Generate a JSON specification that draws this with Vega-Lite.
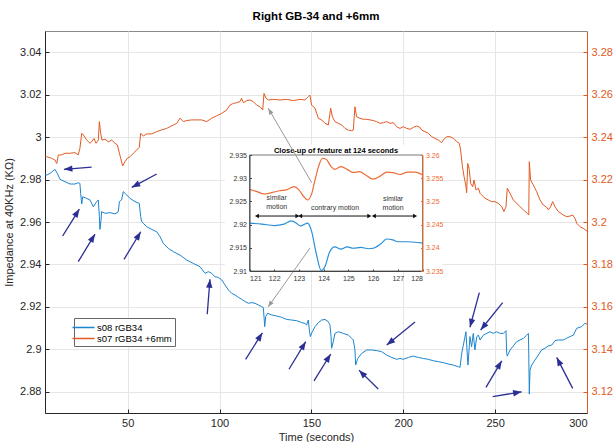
{
"$schema": "https://vega.github.io/schema/vega-lite/v6.json",
"width": 542, "height": 382,
"autosize": {"type": "none"},
"padding": {"left": 45, "top": 31, "right": 26, "bottom": 29},
"title": {"text": "Right GB-34 and +6mm", "fontSize": 11.5, "fontWeight": "bold", "font": "Liberation Sans", "color": "#000", "offset": 9},
"datasets": {
"blue": [{"t":5.2,"v":2.9822},{"t":5.9,"v":2.9821},{"t":7.7,"v":2.9829},{"t":10.4,"v":2.9848},{"t":11.7,"v":2.9829},{"t":13.2,"v":2.9801},{"t":15.9,"v":2.979},{"t":18.6,"v":2.9779},{"t":21.3,"v":2.9779},{"t":23.1,"v":2.9785},{"t":24.0,"v":2.9782},{"t":24.4,"v":2.9735},{"t":25.0,"v":2.9685},{"t":25.5,"v":2.9719},{"t":27.7,"v":2.9711},{"t":29.5,"v":2.9704},{"t":31.3,"v":2.9672},{"t":33.1,"v":2.9696},{"t":34.0,"v":2.9704},{"t":34.6,"v":2.9625},{"t":34.9,"v":2.9565},{"t":35.5,"v":2.9609},{"t":35.8,"v":2.9649},{"t":37.7,"v":2.9641},{"t":40.4,"v":2.9644},{"t":43.1,"v":2.9638},{"t":44.9,"v":2.9649},{"t":45.5,"v":2.9696},{"t":46.7,"v":2.9704},{"t":47.6,"v":2.9743},{"t":49.5,"v":2.9727},{"t":51.3,"v":2.9711},{"t":54.0,"v":2.9696},{"t":56.3,"v":2.9688},{"t":57.1,"v":2.9625},{"t":57.6,"v":2.9602},{"t":58.5,"v":2.9594},{"t":60.3,"v":2.9578},{"t":63.1,"v":2.9565},{"t":65.8,"v":2.9554},{"t":67.6,"v":2.9531},{"t":69.4,"v":2.9499},{"t":72.1,"v":2.9476},{"t":74.9,"v":2.946},{"t":78.5,"v":2.9444},{"t":82.1,"v":2.9421},{"t":85.7,"v":2.9405},{"t":89.4,"v":2.9389},{"t":92.1,"v":2.9358},{"t":93.9,"v":2.9366},{"t":95.7,"v":2.9358},{"t":97.5,"v":2.9342},{"t":99.3,"v":2.9339},{"t":101.2,"v":2.9327},{"t":103.0,"v":2.9303},{"t":104.8,"v":2.928},{"t":106.6,"v":2.9264},{"t":108.4,"v":2.9256},{"t":110.2,"v":2.9245},{"t":112.0,"v":2.9236},{"t":113.9,"v":2.9225},{"t":115.7,"v":2.9217},{"t":117.5,"v":2.922},{"t":119.3,"v":2.9217},{"t":121.1,"v":2.9209},{"t":122.9,"v":2.9201},{"t":123.8,"v":2.9198},{"t":124.2,"v":2.9154},{"t":124.6,"v":2.9107},{"t":125.1,"v":2.9154},{"t":126.2,"v":2.917},{"t":128.4,"v":2.9162},{"t":131.1,"v":2.9157},{"t":133.8,"v":2.9151},{"t":136.5,"v":2.9141},{"t":139.3,"v":2.9138},{"t":142.0,"v":2.9135},{"t":144.7,"v":2.9126},{"t":146.5,"v":2.9122},{"t":147.4,"v":2.9115},{"t":148.3,"v":2.9138},{"t":148.9,"v":2.9091},{"t":149.4,"v":2.906},{"t":150.5,"v":2.9083},{"t":152.0,"v":2.9107},{"t":153.8,"v":2.9126},{"t":155.6,"v":2.9138},{"t":157.4,"v":2.9141},{"t":159.2,"v":2.913},{"t":160.1,"v":2.9115},{"t":160.7,"v":2.906},{"t":161.0,"v":2.9005},{"t":161.9,"v":2.9036},{"t":162.8,"v":2.9075},{"t":164.7,"v":2.9083},{"t":167.4,"v":2.9075},{"t":170.1,"v":2.9067},{"t":171.9,"v":2.9052},{"t":172.8,"v":2.9044},{"t":173.7,"v":2.8997},{"t":174.1,"v":2.8926},{"t":175.2,"v":2.8957},{"t":177.4,"v":2.8981},{"t":180.1,"v":2.8997},{"t":182.8,"v":2.8997},{"t":185.5,"v":2.8994},{"t":188.2,"v":2.8989},{"t":191.0,"v":2.8973},{"t":193.7,"v":2.8962},{"t":196.4,"v":2.8953},{"t":198.2,"v":2.8957},{"t":200.0,"v":2.8953},{"t":202.8,"v":2.8962},{"t":205.5,"v":2.8968},{"t":208.2,"v":2.8962},{"t":210.9,"v":2.8957},{"t":213.6,"v":2.8953},{"t":216.4,"v":2.8946},{"t":219.1,"v":2.8942},{"t":221.8,"v":2.8937},{"t":224.5,"v":2.8931},{"t":227.3,"v":2.8926},{"t":230.0,"v":2.8918},{"t":230.9,"v":2.8915},{"t":231.8,"v":2.8981},{"t":232.7,"v":2.902},{"t":233.6,"v":2.906},{"t":234.1,"v":2.9083},{"t":234.9,"v":2.8965},{"t":235.2,"v":2.8926},{"t":235.8,"v":2.8997},{"t":236.3,"v":2.906},{"t":237.2,"v":2.9012},{"t":238.1,"v":2.9075},{"t":239.0,"v":2.8997},{"t":240.0,"v":2.906},{"t":240.9,"v":2.9067},{"t":241.8,"v":2.9044},{"t":243.6,"v":2.9067},{"t":245.4,"v":2.9075},{"t":247.2,"v":2.9083},{"t":249.0,"v":2.9075},{"t":250.8,"v":2.9083},{"t":252.7,"v":2.9075},{"t":254.5,"v":2.9075},{"t":255.9,"v":2.9088},{"t":256.3,"v":2.8981},{"t":256.6,"v":2.8968},{"t":258.1,"v":2.8997},{"t":259.9,"v":2.9016},{"t":261.7,"v":2.9036},{"t":263.5,"v":2.9044},{"t":265.4,"v":2.9052},{"t":267.2,"v":2.9067},{"t":268.1,"v":2.9075},{"t":268.3,"v":2.8981},{"t":268.6,"v":2.8789},{"t":269.0,"v":2.8903},{"t":269.9,"v":2.8926},{"t":271.7,"v":2.895},{"t":273.5,"v":2.8973},{"t":275.3,"v":2.8997},{"t":277.1,"v":2.9005},{"t":279.0,"v":2.9016},{"t":280.8,"v":2.902},{"t":282.6,"v":2.9041},{"t":284.4,"v":2.9044},{"t":287.1,"v":2.9044},{"t":288.9,"v":2.9052},{"t":290.7,"v":2.906},{"t":292.6,"v":2.9067},{"t":294.4,"v":2.9099},{"t":297.1,"v":2.9107},{"t":298.9,"v":2.9123},{"t":300,"v":2.9118}],
"orange": [{"t":5.2,"v":3.2308},{"t":5.9,"v":3.2308},{"t":8.6,"v":3.23},{"t":10.4,"v":3.2292},{"t":11.4,"v":3.2276},{"t":12.3,"v":3.2316},{"t":14.1,"v":3.2316},{"t":15.9,"v":3.2324},{"t":18.6,"v":3.2324},{"t":21.3,"v":3.2327},{"t":23.1,"v":3.2316},{"t":24.0,"v":3.2347},{"t":25.0,"v":3.2418},{"t":25.9,"v":3.241},{"t":27.7,"v":3.2386},{"t":29.5,"v":3.2371},{"t":30.4,"v":3.2378},{"t":31.7,"v":3.2394},{"t":32.8,"v":3.2371},{"t":34.0,"v":3.2386},{"t":34.6,"v":3.2473},{"t":35.3,"v":3.2418},{"t":36.0,"v":3.2386},{"t":37.7,"v":3.239},{"t":39.5,"v":3.2378},{"t":41.3,"v":3.2386},{"t":43.1,"v":3.2371},{"t":44.4,"v":3.2363},{"t":45.5,"v":3.2324},{"t":46.2,"v":3.23},{"t":47.3,"v":3.2264},{"t":48.5,"v":3.2284},{"t":49.8,"v":3.23},{"t":51.3,"v":3.2308},{"t":53.1,"v":3.2324},{"t":54.9,"v":3.2339},{"t":56.3,"v":3.2352},{"t":57.1,"v":3.2418},{"t":58.5,"v":3.2405},{"t":60.3,"v":3.2415},{"t":63.1,"v":3.2415},{"t":65.8,"v":3.2426},{"t":68.5,"v":3.2434},{"t":71.2,"v":3.2441},{"t":73.0,"v":3.2449},{"t":74.9,"v":3.2457},{"t":76.7,"v":3.2465},{"t":78.5,"v":3.2489},{"t":80.3,"v":3.2473},{"t":82.1,"v":3.2478},{"t":84.8,"v":3.2481},{"t":87.6,"v":3.2481},{"t":90.3,"v":3.2481},{"t":93.0,"v":3.2473},{"t":95.7,"v":3.2489},{"t":98.4,"v":3.25},{"t":101.2,"v":3.2512},{"t":103.9,"v":3.2528},{"t":105.7,"v":3.2551},{"t":107.5,"v":3.2559},{"t":109.3,"v":3.2562},{"t":111.1,"v":3.2567},{"t":112.0,"v":3.2583},{"t":113.0,"v":3.2562},{"t":114.8,"v":3.2572},{"t":116.6,"v":3.2575},{"t":118.4,"v":3.2567},{"t":120.2,"v":3.2551},{"t":122.0,"v":3.2543},{"t":123.5,"v":3.2528},{"t":124.2,"v":3.2606},{"t":125.3,"v":3.2583},{"t":126.6,"v":3.2575},{"t":129.3,"v":3.2578},{"t":132.9,"v":3.2575},{"t":136.5,"v":3.2578},{"t":140.2,"v":3.2572},{"t":143.8,"v":3.2578},{"t":146.5,"v":3.2575},{"t":148.3,"v":3.2591},{"t":149.2,"v":3.2598},{"t":150.1,"v":3.2551},{"t":152.0,"v":3.2536},{"t":152.9,"v":3.2512},{"t":153.8,"v":3.2488},{"t":155.6,"v":3.2481},{"t":157.4,"v":3.2465},{"t":159.2,"v":3.2457},{"t":160.5,"v":3.2536},{"t":161.4,"v":3.2496},{"t":162.8,"v":3.2473},{"t":164.7,"v":3.2465},{"t":166.5,"v":3.2457},{"t":168.3,"v":3.2441},{"t":170.1,"v":3.2433},{"t":171.9,"v":3.243},{"t":172.8,"v":3.2433},{"t":173.7,"v":3.2543},{"t":174.6,"v":3.2496},{"t":176.5,"v":3.2488},{"t":178.3,"v":3.2484},{"t":180.1,"v":3.2484},{"t":181.9,"v":3.2481},{"t":183.7,"v":3.2478},{"t":185.5,"v":3.2473},{"t":187.3,"v":3.2465},{"t":189.2,"v":3.2468},{"t":191.0,"v":3.2473},{"t":192.8,"v":3.2465},{"t":194.6,"v":3.2468},{"t":196.4,"v":3.2449},{"t":198.2,"v":3.2441},{"t":200.0,"v":3.2449},{"t":201.9,"v":3.2441},{"t":203.7,"v":3.2437},{"t":205.5,"v":3.2446},{"t":207.3,"v":3.2452},{"t":209.1,"v":3.2446},{"t":210.0,"v":3.2433},{"t":211.8,"v":3.2426},{"t":213.6,"v":3.2418},{"t":215.5,"v":3.2402},{"t":217.3,"v":3.2394},{"t":219.1,"v":3.2386},{"t":220.9,"v":3.2374},{"t":221.8,"v":3.2386},{"t":223.6,"v":3.2402},{"t":225.4,"v":3.2402},{"t":227.3,"v":3.2394},{"t":229.1,"v":3.2379},{"t":230.5,"v":3.2371},{"t":231.2,"v":3.2339},{"t":232.2,"v":3.2261},{"t":233.1,"v":3.2214},{"t":234.0,"v":3.2174},{"t":234.5,"v":3.2138},{"t":235.1,"v":3.2276},{"t":235.8,"v":3.2253},{"t":236.7,"v":3.2182},{"t":237.8,"v":3.2166},{"t":238.5,"v":3.2198},{"t":239.6,"v":3.2151},{"t":240.9,"v":3.2159},{"t":241.8,"v":3.2135},{"t":242.7,"v":3.2127},{"t":244.5,"v":3.2112},{"t":246.3,"v":3.2104},{"t":248.1,"v":3.2096},{"t":249.9,"v":3.2096},{"t":251.7,"v":3.2088},{"t":253.6,"v":3.2072},{"t":254.8,"v":3.2049},{"t":255.9,"v":3.2072},{"t":256.6,"v":3.2159},{"t":258.1,"v":3.2135},{"t":259.9,"v":3.2104},{"t":262.6,"v":3.208},{"t":265.4,"v":3.2057},{"t":267.5,"v":3.2041},{"t":268.3,"v":3.2033},{"t":268.6,"v":3.2284},{"t":269.3,"v":3.2198},{"t":270.8,"v":3.2174},{"t":272.6,"v":3.2143},{"t":274.4,"v":3.2104},{"t":276.2,"v":3.208},{"t":278.1,"v":3.2069},{"t":279.0,"v":3.2057},{"t":280.2,"v":3.2072},{"t":281.3,"v":3.2096},{"t":282.6,"v":3.2072},{"t":284.4,"v":3.2049},{"t":287.1,"v":3.2033},{"t":288.9,"v":3.2025},{"t":290.7,"v":3.2028},{"t":292.2,"v":3.2033},{"t":293.5,"v":3.2017},{"t":294.4,"v":3.1994},{"t":296.2,"v":3.1978},{"t":298.0,"v":3.197},{"t":300,"v":3.1957}],
"arrows": [{"t":30.4,"v":2.9859,"t2":15.3,"v2":2.9848,"angle":265},{"t":65.8,"v":2.9826,"t2":52.2,"v2":2.9763,"angle":242},{"t":14.6,"v":2.9534,"t2":23.7,"v2":2.9661,"angle":32},{"t":23.1,"v":2.9413,"t2":32.2,"v2":2.9543,"angle":31},{"t":48.0,"v":2.9424,"t2":57.1,"v2":2.9554,"angle":31},{"t":93.3,"v":2.9165,"t2":94.8,"v2":2.933,"angle":5},{"t":114.2,"v":2.8953,"t2":123.3,"v2":2.9078,"angle":32},{"t":137.8,"v":2.8906,"t2":146.9,"v2":2.9036,"angle":31},{"t":151.4,"v":2.8851,"t2":160.5,"v2":2.8978,"angle":32},{"t":186.4,"v":2.8813,"t2":175.9,"v2":2.8902,"angle":315},{"t":206.4,"v":2.9129,"t2":191.0,"v2":2.902,"angle":231},{"t":241.4,"v":2.9267,"t2":236.3,"v2":2.9104,"angle":195},{"t":254.1,"v":2.922,"t2":242.1,"v2":2.9091,"angle":219},{"t":245.0,"v":2.8821,"t2":253.6,"v2":2.8946,"angle":31},{"t":248.7,"v":2.8777,"t2":264.4,"v2":2.88,"angle":80},{"t":292.2,"v":2.8816,"t2":283.5,"v2":2.8962,"angle":333}],
"grayArrows": [{"t":150.2,"v":2.9785,"t2":126.5,"v2":3.0136,"angle":330},{"t":149.2,"v":2.9477,"t2":126.4,"v2":2.9199,"angle":215}],
"insetBlue": [{"t":121.0,"v":2.9203},{"t":121.5,"v":2.9201},{"t":122.0,"v":2.9198},{"t":122.4,"v":2.9201},{"t":122.7,"v":2.9208},{"t":122.9,"v":2.9203},{"t":123.05,"v":2.9197},{"t":123.2,"v":2.92},{"t":123.35,"v":2.9203},{"t":123.5,"v":2.9188},{"t":123.7,"v":2.9138},{"t":123.9,"v":2.9101},{"t":124.05,"v":2.9109},{"t":124.25,"v":2.9142},{"t":124.45,"v":2.9152},{"t":124.7,"v":2.9147},{"t":124.95,"v":2.9152},{"t":125.2,"v":2.9149},{"t":125.5,"v":2.9151},{"t":125.8,"v":2.9148},{"t":126.0,"v":2.9149},{"t":126.3,"v":2.9158},{"t":126.55,"v":2.9169},{"t":126.8,"v":2.9167},{"t":127.0,"v":2.9163},{"t":127.4,"v":2.9163},{"t":127.7,"v":2.9162},{"t":128.0,"v":2.916}],
"insetOrange": [{"t":121.0,"v":3.2526},{"t":121.3,"v":3.2521},{"t":121.6,"v":3.2516},{"t":121.9,"v":3.2519},{"t":122.2,"v":3.2523},{"t":122.5,"v":3.2525},{"t":122.8,"v":3.2532},{"t":123.0,"v":3.2525},{"t":123.2,"v":3.251},{"t":123.35,"v":3.2503},{"t":123.5,"v":3.2514},{"t":123.65,"v":3.2546},{"t":123.8,"v":3.2576},{"t":123.95,"v":3.2593},{"t":124.1,"v":3.2591},{"t":124.3,"v":3.2575},{"t":124.45,"v":3.2569},{"t":124.7,"v":3.2575},{"t":124.95,"v":3.2569},{"t":125.2,"v":3.2562},{"t":125.45,"v":3.2564},{"t":125.7,"v":3.2557},{"t":126.0,"v":3.2548},{"t":126.3,"v":3.2555},{"t":126.55,"v":3.2563},{"t":126.8,"v":3.2562},{"t":127.1,"v":3.2558},{"t":127.4,"v":3.2563},{"t":127.7,"v":3.2563},{"t":128.0,"v":3.2557}],
"insetText": [{"t":122.1,"v":2.92566,"label":"similar"},{"t":122.1,"v":2.92386,"label":"motion"},{"t":124.46,"v":2.92365,"label":"contrary motion"},{"t":126.81,"v":2.92545,"label":"similar"},{"t":126.81,"v":2.92365,"label":"motion"}],
"insetArrows": [{"t":121.3,"t2":122.94,"v":2.92185},{"t":123.05,"t2":125.85,"v":2.92185},{"t":126.03,"t2":127.7,"v":2.92185}]
},
"resolve": {"scale": {"x": "independent", "y": "independent"}, "axis": {"x": "independent", "y": "independent"}},
"layer": [
{"data": {"name": "blue"}, "mark": {"type": "line", "strokeWidth": 1},
 "encoding": {
  "x": {"field": "t", "type": "quantitative", "scale": {"domain": [5, 300], "nice": false, "zero": false},
        "axis": {"orient": "bottom", "values": [50,100,150,200,250,300], "title": "Time (seconds)", "grid": true, "labelFontSize": 11, "titleFontSize": 11, "tickSize": -4, "labelPadding": 8, "titlePadding": 3}},
  "y": {"field": "v", "type": "quantitative", "scale": {"domain": [2.87, 3.05], "nice": false, "zero": false},
        "axis": {"orient": "left", "values": [2.88,2.9,2.92,2.94,2.96,2.98,3,3.02,3.04], "format": ".2~f", "title": "Impedance at 40KHz (KΩ)", "grid": true, "labelFontSize": 11, "titleFontSize": 11, "tickSize": -4, "labelPadding": 8, "titlePadding": 5}},
  "color": {"datum": "s08 rGB34", "type": "nominal",
            "scale": {"domain": ["s08 rGB34", "s07 rGB34 +6mm"], "range": ["#1a85d0", "#e15a22"]},
            "legend": {"orient": "none", "legendX": 29, "legendY": 287, "title": null, "symbolType": "M-2,0H2", "symbolSize": 121, "symbolStrokeWidth": 1.5, "labelFontSize": 9.5, "labelColor": "#000", "strokeColor": "#666", "fillColor": "#fff", "padding": 3, "rowPadding": 0, "labelOffset": 7}}
 }},
{"data": {"name": "orange"}, "mark": {"type": "line", "strokeWidth": 1},
 "encoding": {
  "x": {"field": "t", "type": "quantitative", "scale": {"domain": [5, 300], "nice": false, "zero": false}, "axis": null},
  "y": {"field": "v", "type": "quantitative", "scale": {"domain": [3.11, 3.29], "nice": false, "zero": false},
        "axis": {"orient": "right", "values": [3.12,3.14,3.16,3.18,3.2,3.22,3.24,3.26,3.28], "format": ".2~f", "title": null, "grid": false, "labelFontSize": 11, "labelColor": "#e15a22", "domainColor": "#e15a22", "tickColor": "#e15a22", "tickSize": -4, "labelPadding": 8}},
  "color": {"datum": "s07 rGB34 +6mm", "type": "nominal"}
 }},
{"data": {"name": "arrows"}, "mark": {"type": "rule", "color": "#2b2f93", "strokeWidth": 1.3},
 "encoding": {
  "x": {"field": "t", "type": "quantitative", "scale": {"domain": [5, 300], "nice": false, "zero": false}, "axis": null},
  "y": {"field": "v", "type": "quantitative", "scale": {"domain": [2.87, 3.05], "nice": false, "zero": false}, "axis": null},
  "x2": {"field": "t2"}, "y2": {"field": "v2"}
 }},
{"data": {"name": "arrows"}, "mark": {"type": "point", "shape": "M0,0L1.5,4L-1.5,4Z", "filled": true, "size": 18, "color": "#2b2f93", "opacity": 1, "strokeWidth": 0},
 "encoding": {
  "x": {"field": "t2", "type": "quantitative", "scale": {"domain": [5, 300], "nice": false, "zero": false}, "axis": null},
  "y": {"field": "v2", "type": "quantitative", "scale": {"domain": [2.87, 3.05], "nice": false, "zero": false}, "axis": null},
  "angle": {"field": "angle", "type": "quantitative", "scale": null}
 }},
{"data": {"values": [{}]}, "mark": {"type": "rect", "fill": "#fff", "strokeWidth": 0},
 "encoding": {
  "x": {"datum": 120.0, "type": "quantitative", "scale": {"domain": [121, 128], "range": [204.5, 377.5], "nice": false, "zero": false}, "axis": null},
  "x2": {"datum": 128.8},
  "y": {"datum": 2.91, "type": "quantitative", "scale": {"domain": [2.91, 2.935], "range": [240, 124], "nice": false, "zero": false}, "axis": null},
  "y2": {"datum": 2.9372}
 }},
{"data": {"values": [{}]}, "mark": {"type": "rect", "fillOpacity": 0, "stroke": "#555", "strokeWidth": 0.8},
 "encoding": {
  "x": {"datum": 121, "type": "quantitative", "scale": {"domain": [121, 128], "range": [204.5, 377.5], "nice": false, "zero": false}, "axis": null},
  "x2": {"datum": 128},
  "y": {"datum": 2.91, "type": "quantitative", "scale": {"domain": [2.91, 2.935], "range": [240, 124], "nice": false, "zero": false}, "axis": null},
  "y2": {"datum": 2.935}
 }},
{"data": {"name": "insetBlue"}, "mark": {"type": "line", "strokeWidth": 1.2, "color": "#2a8fd8", "interpolate": "monotone"},
 "encoding": {
  "x": {"field": "t", "type": "quantitative", "scale": {"domain": [121, 128], "range": [204.5, 377.5], "nice": false, "zero": false},
        "axis": {"orient": "bottom", "offset": -142, "values": [121,122,123,124,125,126,127,128], "title": null, "grid": false, "labelFontSize": 7, "labelColor": "#333", "domainColor": "#444", "tickColor": "#444", "tickSize": -2, "labelPadding": 5, "zindex": 1}},
  "y": {"field": "v", "type": "quantitative", "scale": {"domain": [2.91, 2.935], "range": [240, 124], "nice": false, "zero": false},
        "axis": {"orient": "left", "offset": -204.5, "values": [2.91,2.915,2.92,2.925,2.93,2.935], "format": ".3~f", "title": null, "grid": false, "labelFontSize": 7, "labelColor": "#333", "domainColor": "#444", "tickColor": "#444", "tickSize": -2, "labelPadding": 5, "zindex": 1}}
 }},
{"data": {"name": "insetOrange"}, "mark": {"type": "line", "strokeWidth": 1.2, "color": "#ee6b35", "interpolate": "monotone"},
 "encoding": {
  "x": {"field": "t", "type": "quantitative", "scale": {"domain": [121, 128], "range": [204.5, 377.5], "nice": false, "zero": false}, "axis": null},
  "y": {"field": "v", "type": "quantitative", "scale": {"domain": [3.235, 3.26], "range": [240, 124], "nice": false, "zero": false},
        "axis": {"orient": "right", "offset": -164.5, "values": [3.235,3.24,3.245,3.25,3.255,3.26], "format": ".3~f", "title": null, "grid": false, "labelFontSize": 7, "labelColor": "#ee6b35", "domainColor": "#ee6b35", "tickColor": "#ee6b35", "tickSize": -2, "labelPadding": 5, "zindex": 1}}
 }},
{"data": {"name": "insetText"}, "mark": {"type": "text", "fontSize": 7, "color": "#333", "font": "Liberation Sans"},
 "encoding": {
  "x": {"field": "t", "type": "quantitative", "scale": {"domain": [121, 128], "range": [204.5, 377.5], "nice": false, "zero": false}, "axis": null},
  "y": {"field": "v", "type": "quantitative", "scale": {"domain": [2.91, 2.935], "range": [240, 124], "nice": false, "zero": false}, "axis": null},
  "text": {"field": "label"}
 }},
{"data": {"name": "insetArrows"}, "mark": {"type": "rule", "color": "#111", "strokeWidth": 1},
 "encoding": {
  "x": {"field": "t", "type": "quantitative", "scale": {"domain": [121, 128], "range": [204.5, 377.5], "nice": false, "zero": false}, "axis": null},
  "x2": {"field": "t2"},
  "y": {"field": "v", "type": "quantitative", "scale": {"domain": [2.91, 2.935], "range": [240, 124], "nice": false, "zero": false}, "axis": null}
 }},
{"data": {"name": "insetArrows"}, "mark": {"type": "point", "shape": "triangle-left", "filled": true, "size": 22, "color": "#111", "opacity": 1},
 "encoding": {
  "x": {"field": "t", "type": "quantitative", "scale": {"domain": [121, 128], "range": [204.5, 377.5], "nice": false, "zero": false}, "axis": null},
  "y": {"field": "v", "type": "quantitative", "scale": {"domain": [2.91, 2.935], "range": [240, 124], "nice": false, "zero": false}, "axis": null}
 }},
{"data": {"name": "insetArrows"}, "mark": {"type": "point", "shape": "triangle-right", "filled": true, "size": 22, "color": "#111", "opacity": 1},
 "encoding": {
  "x": {"field": "t2", "type": "quantitative", "scale": {"domain": [121, 128], "range": [204.5, 377.5], "nice": false, "zero": false}, "axis": null},
  "y": {"field": "v", "type": "quantitative", "scale": {"domain": [2.91, 2.935], "range": [240, 124], "nice": false, "zero": false}, "axis": null}
 }},
{"data": {"values": [{"label": "Close-up of feature at 124 seconds"}]}, "mark": {"type": "text", "fontSize": 7.5, "fontWeight": "bold", "color": "#000", "font": "Liberation Sans"},
 "encoding": {
  "x": {"datum": 124.5, "type": "quantitative", "scale": {"domain": [121, 128], "range": [204.5, 377.5], "nice": false, "zero": false}, "axis": null},
  "y": {"datum": 2.9359, "type": "quantitative", "scale": {"domain": [2.91, 2.935], "range": [240, 124], "nice": false, "zero": false}, "axis": null},
  "text": {"field": "label"}
 }},
{"data": {"name": "grayArrows"}, "mark": {"type": "rule", "color": "#999", "strokeWidth": 1},
 "encoding": {
  "x": {"field": "t", "type": "quantitative", "scale": {"domain": [5, 300], "nice": false, "zero": false}, "axis": null},
  "y": {"field": "v", "type": "quantitative", "scale": {"domain": [2.87, 3.05], "nice": false, "zero": false}, "axis": null},
  "x2": {"field": "t2"}, "y2": {"field": "v2"}
 }},
{"data": {"name": "grayArrows"}, "mark": {"type": "point", "shape": "M0,0L1.5,4L-1.5,4Z", "filled": true, "size": 10, "color": "#999", "opacity": 1, "strokeWidth": 0},
 "encoding": {
  "x": {"field": "t2", "type": "quantitative", "scale": {"domain": [5, 300], "nice": false, "zero": false}, "axis": null},
  "y": {"field": "v2", "type": "quantitative", "scale": {"domain": [2.87, 3.05], "nice": false, "zero": false}, "axis": null},
  "angle": {"field": "angle", "type": "quantitative", "scale": null}
 }}
],
"config": {
  "font": "Liberation Sans",
  "view": {"stroke": "#8a8a8a", "strokeWidth": 1},
  "axis": {"labelFont": "Liberation Sans", "titleFont": "Liberation Sans", "labelColor": "#262626", "titleColor": "#262626", "titleFontWeight": "normal", "domainColor": "#262626", "tickColor": "#262626", "gridColor": "#e6e6e6", "gridOpacity": 1},
  "legend": {"labelFont": "Liberation Sans"}
}
}
